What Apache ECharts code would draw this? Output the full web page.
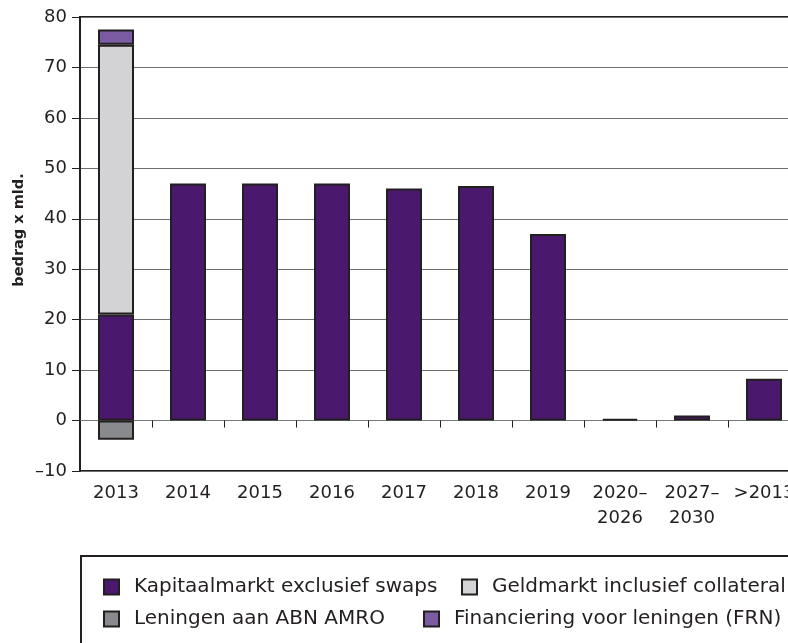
<!DOCTYPE html>
<html>
<head>
<meta charset="utf-8">
<script src="https://cdn.jsdelivr.net/npm/echarts@6/dist/echarts.min.js"></script>
<style>
html,body{margin:0;padding:0;background:#fff;overflow:hidden;}
#main{width:812px;height:643px;}
</style>
</head>
<body>
<div id="main"></div>
<script>
'use strict';
var categories = ['2013', '2014', '2015', '2016', '2017', '2018', '2019', '2020–\n2026', '2027–\n2030', '>2013'];
var kapitaalmarkt = [21, 47, 47, 47, 46, 46.5, 37, 0.3, 1, 8.3];
var geldmarkt = [53.5, '-', '-', '-', '-', '-', '-', '-', '-', '-'];
var frn = [3, '-', '-', '-', '-', '-', '-', '-', '-', '-'];
var leningen = [-3.8, '-', '-', '-', '-', '-', '-', '-', '-', '-'];

var ink = '#231f20';
var font = 'DejaVu Sans';

var chart = echarts.init(document.getElementById('main'));

function bar(name, data, color) {
	return {
		name: name,
		type: 'bar',
		stack: 'totaal',
		data: data,
		barWidth: '50%',
		xAxisIndex: 0,
		itemStyle: { color: color, borderColor: ink, borderWidth: 2 }
	};
}

// one legend per item, so each box sits where the original has it
function legendItem(name, left, top) {
	return {
		left: left, top: top,
		padding: 0,
		icon: 'rect',
		itemWidth: 15, itemHeight: 15,
		data: [name],
		textStyle: { fontSize: 20, color: ink, fontFamily: font, lineHeight: 22, padding: [0, 0, 0, 10] }
	};
}

chart.setOption({
	animation: false,
	textStyle: { fontFamily: font, color: ink },
	grid: {
		left: 80, top: 17, width: 720, bottom: 172,
		show: true, borderColor: ink, borderWidth: 2
	},
	xAxis: [{
		type: 'category',
		data: categories,
		axisLine: { onZero: true, lineStyle: { color: '#77787b', width: 1 } },
		axisTick: { show: true, length: 7, lineStyle: { color: ink, width: 1 } },
		axisLabel: { show: false }
	}, {
		type: 'category',
		data: categories,
		position: 'bottom',
		axisLine: { show: false, onZero: false },
		axisTick: { show: false },
		axisLabel: { interval: 0, fontSize: 18, color: ink, margin: 10, lineHeight: 25, fontFamily: font }
	}],
	yAxis: {
		type: 'value',
		min: -10, max: 80, interval: 10,
		axisLine: { show: true, lineStyle: { color: ink, width: 2 } },
		axisTick: { show: true, length: 8, lineStyle: { color: ink, width: 1 } },
		axisLabel: {
			fontSize: 18, color: ink, margin: 13, fontFamily: font,
			formatter: function (v) { return v < 0 ? '–' + Math.abs(v) : String(v); }
		},
		splitLine: { show: true, lineStyle: { color: '#6d6e71', width: 1 } }
	},
	legend: [
		legendItem('Kapitaalmarkt exclusief swaps', 103, 576),
		legendItem('Geldmarkt inclusief collateral', 461, 576),
		legendItem('Leningen aan ABN AMRO', 103, 608),
		legendItem('Financiering voor leningen (FRN)', 423, 608)
	],
	graphic: [{
		type: 'rect',
		shape: { x: 81, y: 556, width: 720, height: 100 },
		style: { fill: 'none', stroke: ink, lineWidth: 2 },
		silent: true
	}, {
		type: 'text',
		x: 19, y: 230,
		rotation: Math.PI / 2,
		style: {
			text: 'bedrag x mld.',
			fontSize: 14.5, fontWeight: 'bold', fontFamily: font,
			fill: ink, align: 'center', verticalAlign: 'middle'
		}
	}],
	series: [
		bar('Kapitaalmarkt exclusief swaps', kapitaalmarkt, '#4a186c'),
		bar('Geldmarkt inclusief collateral', geldmarkt, '#d3d3d5'),
		bar('Financiering voor leningen (FRN)', frn, '#7b5ba1'),
		bar('Leningen aan ABN AMRO', leningen, '#898a8d')
	]
});
</script>
</body>
</html>
